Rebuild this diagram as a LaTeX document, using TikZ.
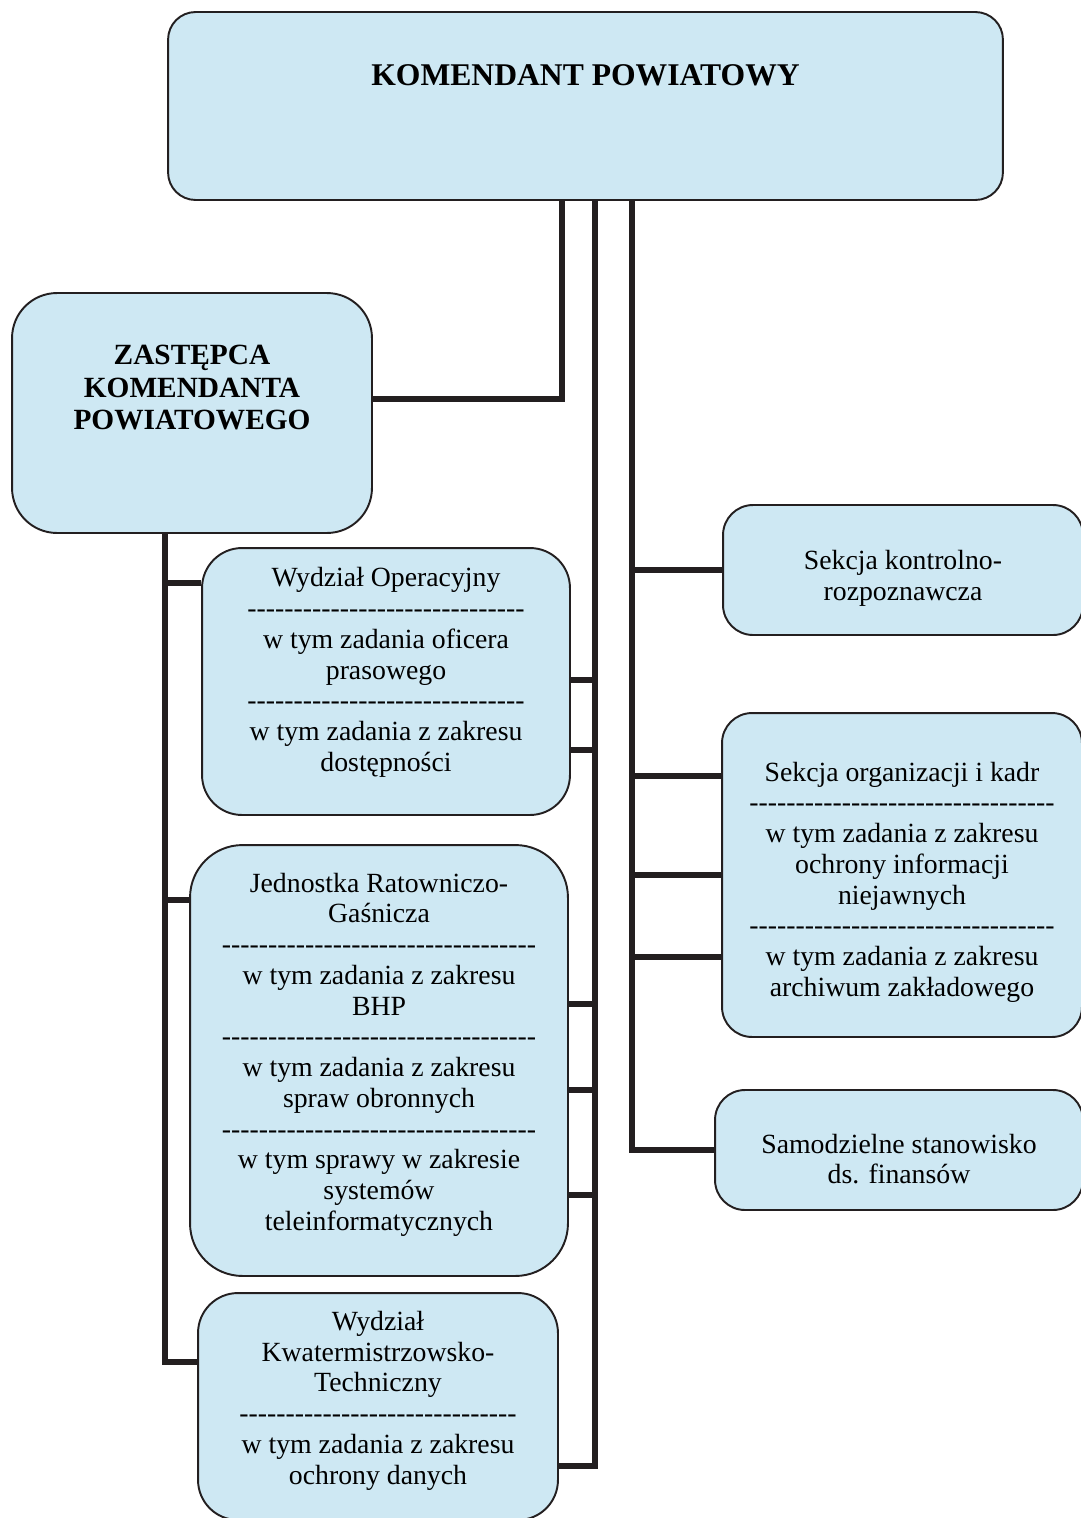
\documentclass[tikz,border=0pt]{standalone}
\usepackage{fontspec}
\setmainfont{Liberation Serif}
\usetikzlibrary{calc}

\definecolor{boxblue}{RGB}{206,232,243}
\definecolor{linec}{RGB}{35,31,32}
\newcommand{\sepline}[1]{\foreach \n in {1,...,#1}{-\kern0pt}}

\tikzset{
  box/.style={draw=linec, line width=1.1pt, fill=boxblue, rounded corners=0.8cm, inner sep=0pt},
  rbox/.style={box, rounded corners=0.6cm},
  txt/.style={align=center, font=\fontsize{15.8}{17.5}\selectfont},
  head/.style={align=center, font=\bfseries\fontsize{16.7}{18.6}\selectfont},
  conn/.style={draw=linec, line width=3.3pt}
}

\begin{document}
\begin{tikzpicture}[x=0.02cm, y=-0.02cm]
            \useasboundingbox (0,0) rectangle (1081,1518);
            \node[box, rounded corners=0.55cm, minimum width=16.7cm, minimum height=3.76cm, label={[head, font=\bfseries\fontsize{18}{20}\selectfont, yshift=0.62cm]center:KOMENDANT POWIATOWY}] (kp) at (585.5,106) {};
            \node[box, rounded corners=0.9cm, minimum width=7.2cm, minimum height=4.8cm, label={[head, yshift=0.51cm]center:{ZASTĘPCA\\KOMENDANTA\\POWIATOWEGO}}] (zast) at (192,413) {};
            \node[box, minimum width=7.36cm, minimum height=5.34cm, label={[txt, yshift=0.18cm]center:{Wydział Operacyjny\\\sepline{30}\\w tym zadania oficera\\prasowego\\\sepline{30}\\w tym zadania z zakresu\\dostępności}}] (wo) at (386,681.5) {};
            \node[box, rounded corners=1.05cm, minimum width=7.56cm, minimum height=8.62cm, label={[txt, yshift=0.12cm]center:{Jednostka Ratowniczo-\\Gaśnicza\\\sepline{34}\\w tym zadania z zakresu\\BHP\\\sepline{34}\\w tym zadania z zakresu\\spraw obronnych\\\sepline{34}\\w tym sprawy w zakresie\\systemów\\teleinformatycznych}}] (jrg) at (379,1060.5) {};
            \node[box, minimum width=7.2cm, minimum height=4.54cm, label={[txt, yshift=0.12cm]center:{Wydział\\Kwatermistrzowsko-\\Techniczny\\\sepline{30}\\w tym zadania z zakresu\\ochrony danych}}] (kw) at (378,1406.5) {};
            \node[rbox, minimum width=7.2cm, minimum height=2.6cm, label={[txt, yshift=-0.16cm]center:{Sekcja kontrolno-\\rozpoznawcza}}] (skr) at (903,570) {};
            \node[rbox, minimum width=7.2cm, minimum height=6.48cm, label={[txt, yshift=-0.14cm]center:{Sekcja organizacji i kadr\\\sepline{33}\\w tym zadania z zakresu\\ochrony informacji\\niejawnych\\\sepline{33}\\w tym zadania z zakresu\\archiwum zakładowego}}] (sok) at (902,875) {};
            \node[rbox, minimum width=7.36cm, minimum height=2.4cm, label={[txt, yshift=-0.18cm]center:{Samodzielne stanowisko\\ds. finansów}}] (sd) at (899,1150) {};
            \coordinate (b0) at ($(zast.south)+(-27,0)$);
            \coordinate (b1) at ($(kp.south)+(-23.5,0)$);
            \coordinate (b2) at ($(kp.south)+(9.5,0)$);
            \coordinate (b3) at ($(kp.south)+(46.5,0)$);
            \draw[conn] (b1) |- ($(zast.east)+(0,-14)$);
            \draw[conn] (b2) |- ($(kw.east)+(0,59.5)$);
            \draw[conn] (b3) |- (sd.west);
            \draw[conn] (b0) |- ($(kw.west)+(0,-44.5)$);
            \draw[conn] ($(wo.west)+(0,-98.5)$) -| (b0);
            \draw[conn] ($(jrg.west)+(0,-160.5)$) -| (b0);
            \draw[conn] ($(wo.east)+(0,-1.5)$) -| (b2);
            \draw[conn] ($(wo.east)+(0,68.5)$) -| (b2);
            \draw[conn] ($(jrg.east)+(0,-56.5)$) -| (b2);
            \draw[conn] ($(jrg.east)+(0,29.5)$) -| (b2);
            \draw[conn] ($(jrg.east)+(0,134.5)$) -| (b2);
            \draw[conn] (skr.west) -| (b3);
            \draw[conn] ($(sok.west)+(0,-99)$) -| (b3);
            \draw[conn] (sok.west) -| (b3);
            \draw[conn] ($(sok.west)+(0,82)$) -| (b3);
        \end{tikzpicture}
\end{document}
